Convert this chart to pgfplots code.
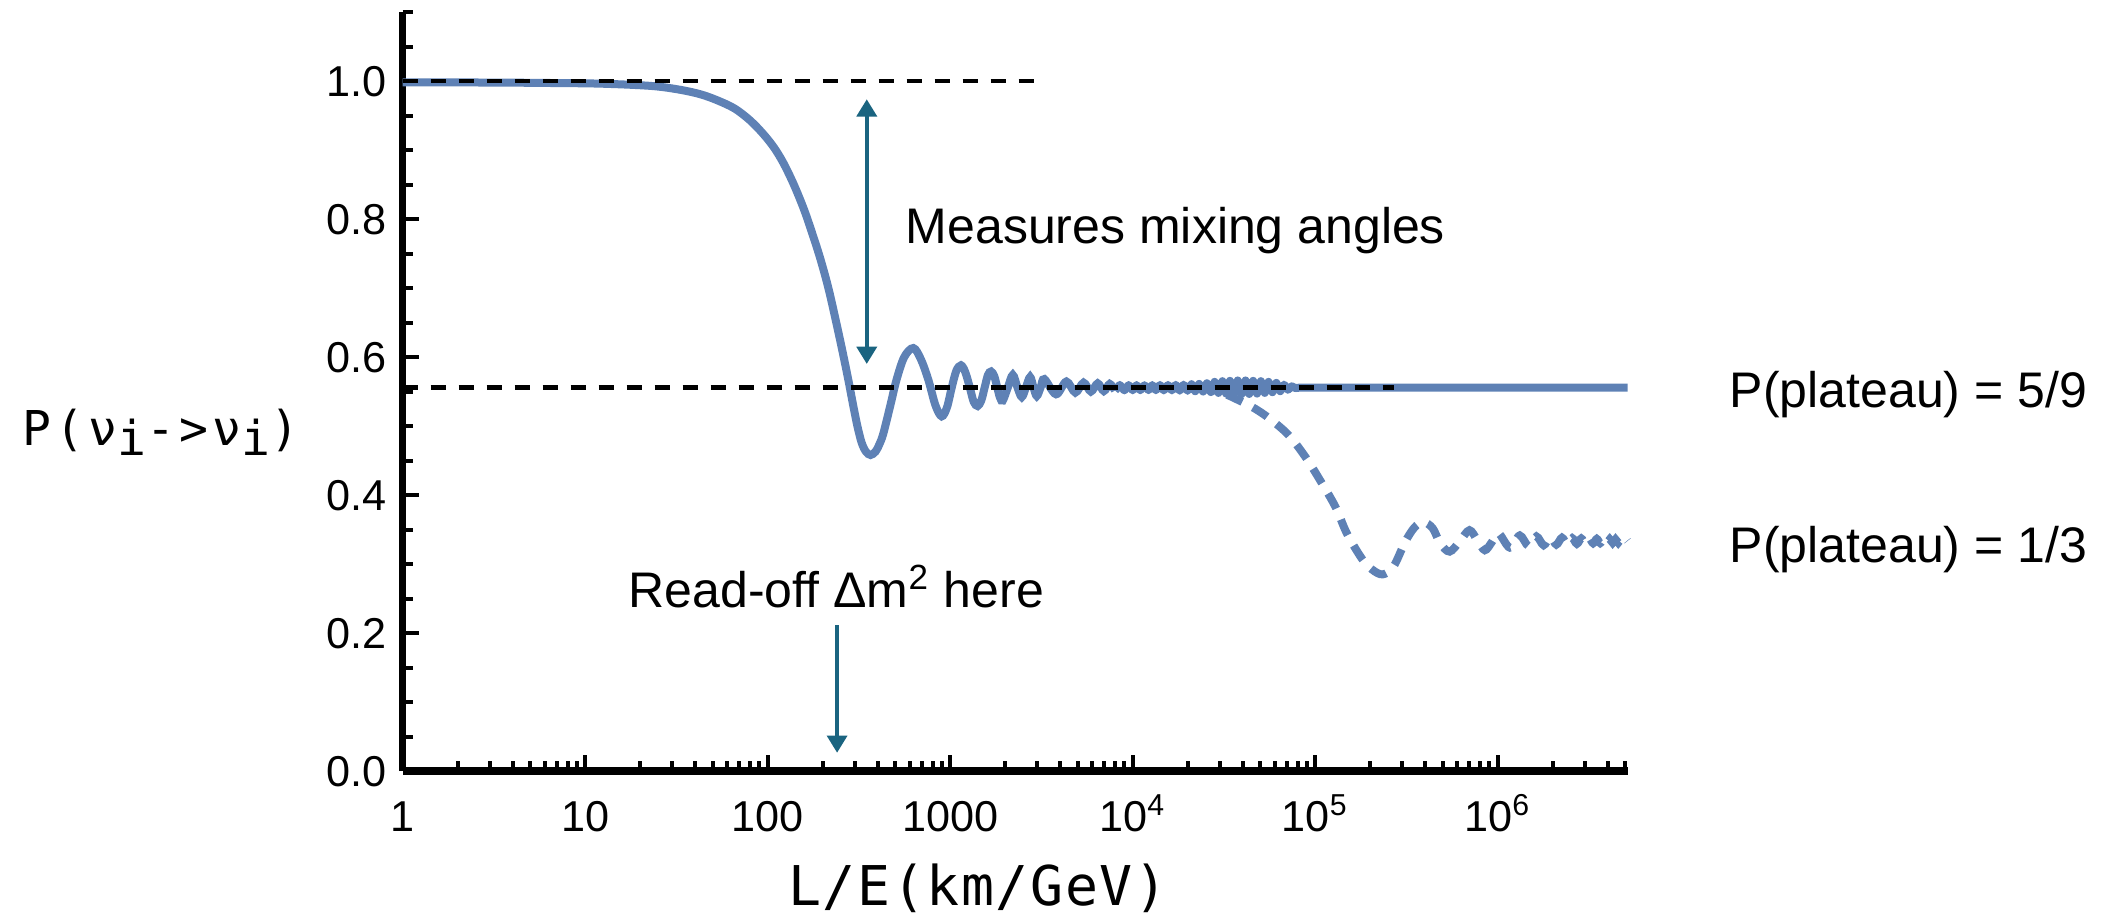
\documentclass[border=0pt]{standalone}
\usepackage{pgfplots}
\pgfplotsset{compat=1.18}
\usetikzlibrary{arrows.meta}
\usepackage{fontspec}
\setmainfont{Liberation Sans}
\newfontfamily\labmono[LetterSpace=3]{DejaVu Sans Mono}
\newfontfamily\ylabmono[LetterSpace=8.5]{DejaVu Sans Mono}
\definecolor{mblue}{RGB}{94,129,181}
\definecolor{mteal}{RGB}{26,100,128}
\begin{document}
\begin{tikzpicture}
\begin{axis}[
  scale only axis, width=306.225pt, height=189.75pt,
  xmode=log, xmin=1, xmax=5.15e6, ymin=0, ymax=1.1,
  axis x line=bottom, axis y line=left,
  axis line style={-, line width=1.8pt},
  tick align=inside,
  major tick length=4pt, minor tick length=2.5pt,
  tick style={black, line width=1pt},
  xtick={1,10,100,1000,10000,100000,1000000},
  xticklabels={1,10,100,1000,10\textsuperscript{4},10\textsuperscript{5},10\textsuperscript{6}},
  minor xtick={2,3,4,5,6,7,8,9,20,30,40,50,60,70,80,90,200,300,400,500,600,700,800,900,2000,3000,4000,5000,6000,7000,8000,9000,20000,30000,40000,50000,60000,70000,80000,90000,200000,300000,400000,500000,600000,700000,800000,900000,2000000,3000000,4000000,5000000},
  ytick={0,0.2,0.4,0.6,0.8,1.0},
  yticklabels={0.0,0.2,0.4,0.6,0.8,1.0},
  minor ytick={0.05,0.1,0.15,0.25,0.3,0.35,0.45,0.5,0.55,0.65,0.7,0.75,0.85,0.9,0.95,1.05,1.1},
  xticklabel style={font=\fontsize{10.8}{12}\selectfont, anchor=north, inner sep=0pt, text height=7.7pt, text depth=0pt, yshift=-7.3pt},
  yticklabel style={font=\fontsize{10.8}{12}\selectfont, anchor=east, inner sep=0pt, text height=7.7pt, text depth=0pt, xshift=-3.75pt},
  clip=false,
]
% solid curve, smooth part
\addplot[mblue, line width=2pt, smooth, tension=0.55] coordinates {
(1,0.998)(3,0.9978)(6,0.9972)(12,0.9962)(22.6,0.993)(32,0.988)(42.5,0.981)(53,0.972)(66,0.960)
(80,0.943)(94,0.924)(108,0.904)(122,0.881)(139,0.850)(158,0.814)(175,0.780)(194,0.743)
(215,0.700)(237,0.651)(257,0.608)(277,0.566)(294,0.530)(310,0.500)(327,0.476)(345,0.463)
(366,0.458)(390,0.463)(410,0.474)(430,0.489)(470,0.530)(508,0.567)(560,0.600)(628,0.613)
(690,0.597)(759,0.567)(830,0.530)(898,0.514)(960,0.527)(1020,0.556)(1080,0.580)(1146,0.588)
(1210,0.578)(1280,0.556)(1345,0.535)(1413,0.529)(1480,0.537)(1545,0.556)(1610,0.574)(1675,0.579)
(1745,0.572)(1810,0.556)(1875,0.541)(1942,0.537)(2070,0.556)(2203,0.574)(2335,0.556)(2467,0.542)
(2600,0.556)(2740,0.571)(2860,0.556)(2981,0.5435)(3130,0.556)(3280,0.568)(3800,0.546)(4330,0.5645)
(4850,0.5485)(5380,0.5628)(5900,0.550)(6430,0.5618)(6950,0.5507)(7480,0.5610)(8000,0.5514)
};
% solid curve, ragged band and plateau
\addplot[mblue, line width=2pt, line join=round] coordinates {
(8000,0.5514)(8500,0.5596)(9000,0.5516)(9500,0.5594)(10000,0.5518)(10500,0.5594)(11000,0.5518)
(11600,0.5592)(12200,0.5520)(12800,0.5594)(13400,0.5518)(14100,0.5596)(14800,0.5516)(15600,0.5596)
(16400,0.5516)(17200,0.5598)(18100,0.5512)(19000,0.5600)(20000,0.5510)(21000,0.5606)(22000,0.5504)
(23100,0.5610)(24300,0.5500)(25500,0.5620)(26800,0.5492)(28100,0.5640)(29500,0.5480)(31000,0.5650)
(32500,0.5470)(34100,0.5655)(35800,0.5465)(37600,0.5660)(39500,0.5462)(41500,0.5660)(43500,0.5465)
(45700,0.5655)(48000,0.5470)(50400,0.5650)(52900,0.5480)(55500,0.5640)(58300,0.5490)(61200,0.5625)
(64300,0.5505)(67500,0.5600)(70900,0.5525)(74400,0.5575)(78000,0.5550)(82000,0.5556)(5150000,0.5556)
};
% dashed curve
\addplot[mblue, line width=2pt, smooth, tension=0.55, dash pattern=on 4.25pt off 3pt] coordinates {
(23000,0.5556)(28000,0.551)(33000,0.545)(39000,0.536)(46900,0.525)(56700,0.510)(71400,0.487)
(88200,0.4555)(106000,0.422)(129000,0.383)(149000,0.3445)(180000,0.308)(205000,0.292)(234000,0.285)
(268000,0.296)(311000,0.332)(350000,0.353)(390000,0.361)(440000,0.352)(484000,0.330)(545000,0.318)
(620000,0.333)(700000,0.349)(775000,0.334)(850000,0.320)(930000,0.332)(1010000,0.3445)
(1165000,0.3238)(1320000,0.3414)(1475000,0.3260)(1630000,0.3399)(1785000,0.3273)(1940000,0.3388)
(2095000,0.3282)(2250000,0.3381)(2405000,0.3288)(2560000,0.3375)(2715000,0.3293)(2870000,0.3370)
(3025000,0.3297)(3180000,0.3367)(3335000,0.3301)(3490000,0.3364)(3645000,0.3303)(3800000,0.3361)
(3955000,0.3306)(4110000,0.3359)(4265000,0.3308)(4420000,0.3357)(4575000,0.3309)(4730000,0.3356)
(4885000,0.3311)(5040000,0.3354)(5150000,0.3335)
};
% reference lines
\addplot[black, line width=1.1pt, dash pattern=on 3.75pt off 3.25pt] coordinates {(1,1)(3357,1)};
\addplot[black, line width=1.1pt, dash pattern=on 3.75pt off 3.25pt] coordinates {(1,0.5556)(270000,0.5556)};
% arrows
\draw[mteal, line width=0.9pt, {Triangle[width=5pt,length=4.3pt]}-{Triangle[width=5pt,length=4.3pt]}]
  (axis cs:349,0.9735) -- (axis cs:349,0.590);
\draw[mteal, line width=0.9pt, -{Triangle[width=5pt,length=4.3pt]}]
  (axis cs:240,0.2116) -- (axis cs:240,0.0265);
\end{axis}
\node[anchor=base west, inner sep=0pt, font=\fontsize{12.5}{14}\selectfont] at (125.6pt,131.9pt) {Measures mixing angles};
\node[anchor=base west, inner sep=0pt, font=\fontsize{12.5}{14}\selectfont] at (331.6pt,91pt) {P(plateau) = 5/9};
\node[anchor=base west, inner sep=0pt, font=\fontsize{12.5}{14}\selectfont] at (331.6pt,52.25pt) {P(plateau) = 1/3};
\node[anchor=base west, inner sep=0pt, font=\fontsize{12.5}{14}\selectfont] at (56.3pt,41pt) {Read-off Δm\textsuperscript{2} here};
\node[anchor=base, inner sep=0pt, font=\labmono\fontsize{13.7}{16}\selectfont] at (143.8pt,-33.5pt) {L/E(km/GeV)};
\node[anchor=base west, inner sep=0pt, font=\ylabmono\fontsize{12}{14}\selectfont] at (-95.2pt,81.5pt) {P(ν\raisebox{-2.5pt}{i}->ν\raisebox{-2.5pt}{i})};
\pgfresetboundingbox
\path[use as bounding box] (-100.675pt,-36pt) rectangle (428.825pt,192.75pt);
\end{tikzpicture}
\end{document}
